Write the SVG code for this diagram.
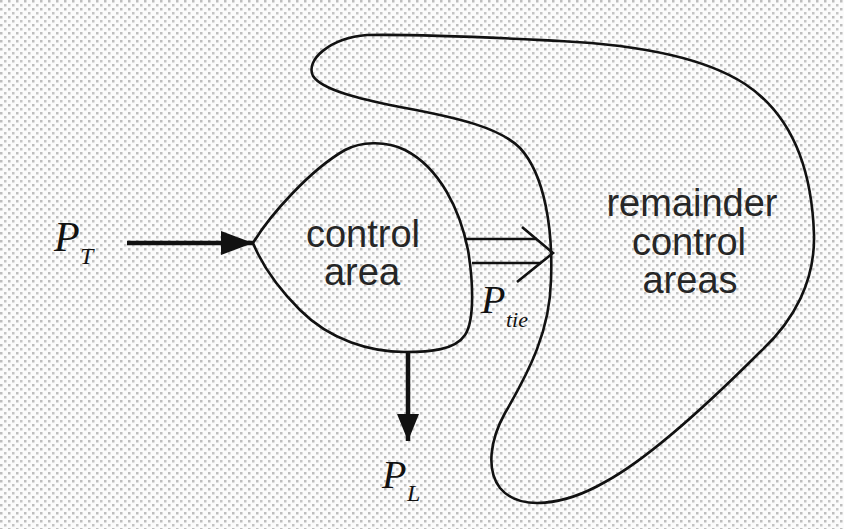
<svg xmlns="http://www.w3.org/2000/svg" width="844" height="529" viewBox="0 0 844 529">
<defs>
<pattern id="dots" width="8" height="8" patternUnits="userSpaceOnUse">
<rect width="8" height="8" fill="#fbfbfb"/>
<rect x="0" y="0" width="2.5" height="2.5" fill="#bdbdbd"/>
<rect x="4" y="4" width="2.5" height="2.5" fill="#c4c4c4"/>
</pattern>
<marker id="head" markerUnits="userSpaceOnUse" markerWidth="32" markerHeight="26" refX="32" refY="13" orient="auto">
<path d="M0,1 L32,13 L0,25 Z" fill="#111"/>
</marker>
<marker id="headS" markerUnits="userSpaceOnUse" markerWidth="27" markerHeight="24" refX="27" refY="12" orient="auto">
<path d="M0,1 L27,12 L0,23 Z" fill="#111"/>
</marker>
</defs>
<style>
.outline{fill:none;stroke:#111;stroke-width:2.6;stroke-linejoin:round}
.flow{fill:none;stroke:#111;stroke-width:4.5}
.thin{fill:none;stroke:#111;stroke-width:2.6;stroke-linejoin:miter}
.lbl{font-family:"Liberation Sans",Arial,sans-serif;font-size:38px;fill:#262626;text-anchor:middle}
.p{font-family:"Liberation Serif","Times New Roman",serif;font-style:italic;fill:#111}
</style>
<rect width="844" height="529" fill="url(#dots)"/>
<g id="remainder-areas">
<path class="outline" d="M 367,35 C 430,34 500,38 560,41 C 640,45 705,58 745,84 C 792,115 812,170 814,235 C 815,280 795,320 760,352 C 720,392 655,455 605,482 C 565,505 520,512 500,488 C 486,470 490,440 505,413 C 530,370 550,330 551,280 C 553,230 545,175 520,148 C 500,128 460,118 400,107 C 360,99 322,90 313,76 C 305,60 330,38 367,35 Z"/>
<text class="lbl" x="692" y="216">remainder</text>
<text class="lbl" x="689" y="255">control</text>
<text class="lbl" x="690" y="293">areas</text>
</g>
<g id="control-area">
<path class="outline" d="M 253,243 C 270,215 310,170 345,150 C 360,142 385,140 405,150 C 440,168 460,210 468,250 C 473,280 475,320 465,335 C 455,350 430,352 405,352 C 370,352 330,340 300,310 C 280,290 262,265 253,243 Z"/>
<text class="lbl" x="363" y="247">control</text>
<text class="lbl" x="362" y="285">area</text>
</g>
<g id="connectors">
<line class="flow" x1="127" y1="243" x2="253" y2="243" marker-end="url(#head)"/>
<line class="flow" x1="408" y1="352" x2="408" y2="441" marker-end="url(#headS)"/>
<path class="thin" d="M465,239 H537 M472,263 H541"/>
<polyline class="thin" points="522,227 553,253 517,282"/>
</g>
<g id="label-PT">
<text class="p" x="54" y="251" font-size="42">P</text>
<text class="p" x="80" y="264" font-size="24">T</text>
</g>
<g id="label-PL">
<text class="p" x="382" y="488" font-size="40">P</text>
<text class="p" x="407" y="501" font-size="24">L</text>
</g>
<g id="label-Ptie">
<text class="p" x="481" y="313" font-size="40">P</text>
<text class="p" x="506" y="327" font-size="22">tie</text>
</g>
</svg>
